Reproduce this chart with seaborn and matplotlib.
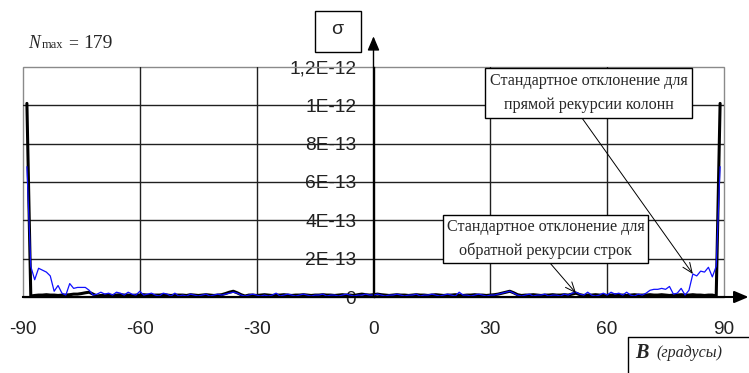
import numpy as np
import pandas as pd
import matplotlib
matplotlib.use("Agg")
import matplotlib.pyplot as plt
import seaborn as sns
from matplotlib.patches import Rectangle
from matplotlib.lines import Line2D

# ---------------- data (sigma in units of 1e-13) ----------------
angles = list(range(-89, 90))

sigma_cols = [  # blue: прямая рекурсия колонн
    6.8, 1.6, 0.9, 1.5, 1.4, 1.3, 1.1, 0.3, 0.6, 0.2,
    0.1, 0.7, 0.45, 0.5, 0.5, 0.5, 0.35, 0.1, 0.15, 0.25,
    0.15, 0.2, 0.1, 0.25, 0.2, 0.1, 0.25, 0.15, 0.1, 0.3,
    0.1, 0.15, 0.2, 0.1, 0.05, 0.2, 0.15, 0.05, 0.2, 0.05,
    0.1, 0.05, 0.15, 0.1, 0.05, 0.1, 0.15, 0.05, 0.1, 0.15,
    0.1, 0.15, 0.2, 0.25, 0.2, 0.1, 0.05, 0.1, 0.15, 0.1,
    0.05, 0.1, 0.05, 0.1, 0.2, 0.05, 0.1, 0.15, 0.1, 0.05,
    0.1, 0.15, 0.1, 0.05, 0.1, 0.1, 0.15, 0.05, 0.1, 0.1,
    0.05, 0.1, 0.15, 0.1, 0.05, 0.1, 0.1, 0.15, 0.1, 0.1,
    0.15, 0.1, 0.05, 0.1, 0.1, 0.15, 0.1, 0.05, 0.1, 0.1,
    0.15, 0.05, 0.1, 0.1, 0.15, 0.1, 0.05, 0.1, 0.15, 0.1,
    0.05, 0.25, 0.1, 0.1, 0.05, 0.1, 0.15, 0.1, 0.05, 0.1,
    0.1, 0.15, 0.2, 0.25, 0.3, 0.2, 0.1, 0.05, 0.1, 0.15,
    0.05, 0.1, 0.1, 0.15, 0.05, 0.1, 0.1, 0.05, 0.15, 0.1,
    0.2, 0.25, 0.15, 0.1, 0.25, 0.1, 0.05, 0.1, 0.2, 0.1,
    0.25, 0.15, 0.2, 0.1, 0.25, 0.1, 0.05, 0.15, 0.1, 0.2,
    0.35, 0.4, 0.4, 0.45, 0.4, 0.55, 0.15, 0.2, 0.45, 0.1,
    0.35, 1.2, 1.1, 1.35, 1.3, 1.55, 1.05, 1.6, 6.8,
]

sigma_rows = [  # black: обратная рекурсия строк
    10.1, 0.05, 0.08, 0.1, 0.1, 0.12, 0.1, 0.1, 0.08, 0.1,
    0.1, 0.12, 0.15, 0.15, 0.18, 0.22, 0.25, 0.15, 0.05, 0.08,
    0.1, 0.1, 0.08, 0.1, 0.12, 0.1, 0.1, 0.08, 0.1, 0.1,
    0.12, 0.1, 0.08, 0.1, 0.1, 0.12, 0.1, 0.08, 0.1, 0.1,
    0.1, 0.08, 0.12, 0.1, 0.08, 0.1, 0.12, 0.1, 0.08, 0.1,
    0.12, 0.18, 0.25, 0.3, 0.22, 0.12, 0.05, 0.1, 0.1, 0.08,
    0.1, 0.12, 0.1, 0.08, 0.1, 0.1, 0.12, 0.1, 0.08, 0.1,
    0.1, 0.12, 0.1, 0.08, 0.1, 0.1, 0.12, 0.1, 0.1, 0.08,
    0.1, 0.12, 0.1, 0.1, 0.08, 0.12, 0.15, 0.12, 0.1, 0.12,
    0.15, 0.12, 0.1, 0.08, 0.1, 0.12, 0.1, 0.1, 0.08, 0.1,
    0.12, 0.1, 0.1, 0.08, 0.1, 0.12, 0.1, 0.08, 0.1, 0.1,
    0.12, 0.1, 0.08, 0.1, 0.1, 0.12, 0.1, 0.1, 0.08, 0.1,
    0.12, 0.15, 0.2, 0.25, 0.3, 0.22, 0.12, 0.08, 0.1, 0.1,
    0.12, 0.1, 0.08, 0.1, 0.1, 0.12, 0.1, 0.1, 0.12, 0.1,
    0.15, 0.2, 0.12, 0.08, 0.1, 0.1, 0.12, 0.1, 0.1, 0.08,
    0.1, 0.12, 0.1, 0.1, 0.08, 0.1, 0.12, 0.1, 0.1, 0.1,
    0.12, 0.1, 0.1, 0.12, 0.1, 0.08, 0.1, 0.1, 0.12, 0.1,
    0.1, 0.12, 0.1, 0.1, 0.08, 0.1, 0.1, 0.05, 10.1,
]
assert len(angles) == len(sigma_cols) == len(sigma_rows)

unit = 1e-13
x_ticks = [-90, -60, -30, 0, 30, 60, 90]
y_ticks = [0, 2e-13, 4e-13, 6e-13, 8e-13, 1e-12, 1.2e-12]
y_tick_labels = ["0", "2E-13", "4E-13", "6E-13", "8E-13", "1E-12", "1,2E-12"]

label_cols = "Стандартное отклонение для\nпрямой рекурсии колонн"
label_rows = "Стандартное отклонение для\nобратной рекурсии строк"

df = pd.DataFrame({
    "angle": angles * 2,
    "sigma": [v * unit for v in sigma_rows] + [v * unit for v in sigma_cols],
    "series": ["rows"] * len(angles) + ["cols"] * len(angles),
})

# ---------------- figure ----------------
sns.set_style("white")
plt.rcParams["font.family"] = ["Liberation Sans", "DejaVu Sans"]

W, H = 749, 373
fig = plt.figure(figsize=(W / 100, H / 100), dpi=100)
ax = fig.add_axes([23 / W, 76 / H, 701 / W, 230 / H])

sns.lineplot(data=df[df.series == "rows"], x="angle", y="sigma", color="black",
             linewidth=2.2, ax=ax, legend=False, zorder=3)
sns.lineplot(data=df[df.series == "cols"], x="angle", y="sigma", color="#1010ff",
             linewidth=0.9, ax=ax, legend=False, zorder=4)

ax.set_xlim(-90, 90)
ax.set_ylim(0, 1.2e-12)
ax.set_xlabel("")
ax.set_ylabel("")

# spines
for s in ["top", "right"]:
    ax.spines[s].set_visible(False)
ax.spines["left"].set_position(("data", 0))
ax.spines["left"].set_color("black")
ax.spines["left"].set_linewidth(1.0)
ax.spines["bottom"].set_color("black")
ax.spines["bottom"].set_linewidth(1.5)

ax.set_xticks(x_ticks)
ax.set_xticklabels([str(v) for v in x_ticks])
ax.set_yticks(y_ticks)
ax.set_yticklabels(y_tick_labels)
ax.tick_params(axis="x", direction="out", length=4, width=1, color="black",
               pad=13, labelsize=13.8, labelcolor="#222222")
ax.tick_params(axis="y", direction="inout", length=9, width=1, color="black",
               pad=8, labelsize=13.8, labelcolor="#222222")
ax.set_axisbelow(True)

# grid drawn over the labels (like the original)
for v in y_ticks[1:-1]:
    ax.axhline(v, color="#202020", lw=1.0, zorder=1)
for v in x_ticks[1:-1]:
    if v != 0:
        ax.axvline(v, color="#202020", lw=1.0, zorder=1)

# grey plot-area border
ax.add_patch(Rectangle((0, 0), 1, 1, transform=ax.transAxes, fill=False,
                       edgecolor="#8a8a8a", lw=1.0, zorder=0.9, clip_on=False))

# axis arrows
ax.annotate("", xy=(0, 13.6e-13), xytext=(0, 0),
            arrowprops=dict(arrowstyle="-|>,head_length=0.85,head_width=0.36",
                            color="black", lw=1.0, shrinkA=0, shrinkB=0,
                            mutation_scale=10),
            annotation_clip=False, zorder=5)
ax.annotate("", xy=(96.3, 0), xytext=(-90, 0),
            arrowprops=dict(arrowstyle="-|>,head_length=0.85,head_width=0.36",
                            color="black", lw=1.5, shrinkA=0, shrinkB=0,
                            mutation_scale=10),
            annotation_clip=False, zorder=5)

# annotations: boxes, texts and leader arrows
serif = ["Liberation Serif", "DejaVu Serif"]
idx_c = angles.index(82)
idx_r = angles.index(52)

def callout(text, box, start, target):
    x0, y0, x1, y1 = box  # pixels from top-left
    fig.add_artist(Rectangle((x0 / W, 1 - y1 / H), (x1 - x0) / W, (y1 - y0) / H,
                             transform=fig.transFigure, fc="white", ec="black",
                             lw=1.0, zorder=2))
    fig.text((x0 + x1) / 2 / W, 1 - (y0 + y1) / 2 / H, text, ha="center",
             va="center", fontsize=11.6, family=serif, linespacing=1.6,
             zorder=3)
    ax.annotate("", xy=target, xytext=(start[0], H - start[1]),
                textcoords="figure pixels",
                arrowprops=dict(arrowstyle="->,head_length=0.6,head_width=0.25",
                                color="black", lw=0.7, shrinkA=0, shrinkB=0,
                                mutation_scale=12),
                annotation_clip=False, zorder=6)

callout(label_cols, (485, 68, 692, 118), (582, 118),
        (angles[idx_c], sigma_cols[idx_c] * unit))
callout(label_rows, (443, 215, 648, 263), (550, 263),
        (angles[idx_r], sigma_rows[idx_r] * unit))

# sigma box
fig.add_artist(Rectangle((315 / W, 1 - 52 / H), 46 / W, 41 / H,
                         transform=fig.transFigure, fill=False,
                         edgecolor="black", lw=1.0))
fig.text(337 / W, 1 - 30 / H, "σ", ha="center", va="center", fontsize=14)

# B (градусы) box
fig.add_artist(Line2D([628 / W, 628 / W, 1.0], [0.0, 1 - 337 / H, 1 - 337 / H],
                      transform=fig.transFigure, color="black", lw=1.0))
fig.text(635 / W, 1 - 358 / H, "B", ha="left", va="baseline", fontsize=14.5,
         family=serif, fontweight="bold", fontstyle="italic")
fig.text(656 / W, 1 - 357 / H, "(градусы)", ha="left", va="baseline",
         fontsize=11.5, family=serif, fontstyle="italic")

# N_max = 179
fig.text(28 / W, 1 - 48.3 / H, "N", ha="left", va="baseline", fontsize=12.7,
         family=serif, fontstyle="italic")
fig.text(42 / W, 1 - 48.3 / H, "max", ha="left", va="baseline", fontsize=9,
         family=serif)
fig.text(68 / W, 1 - 48.3 / H, "=", ha="left", va="baseline", fontsize=12.7,
         family=serif)
fig.text(83 / W, 1 - 48.3 / H, "179", ha="left", va="baseline", fontsize=14,
         family=serif)

fig.savefig("out.png", dpi=100)
